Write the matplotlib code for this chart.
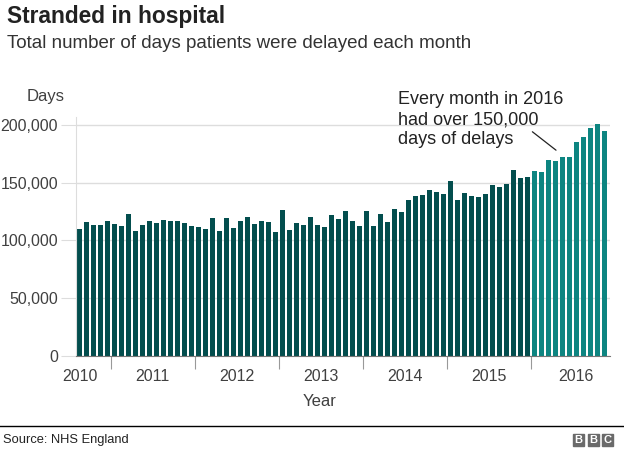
import matplotlib
matplotlib.use("Agg")
from matplotlib import pyplot as plt
from matplotlib.lines import Line2D
from matplotlib.patches import Rectangle
from matplotlib.ticker import FuncFormatter
import numpy as np

plt.rcParams['font.family'] = ['Liberation Sans', 'DejaVu Sans']

# Datos: dias de retraso por mes, de agosto 2010 a noviembre 2016 (miles)
years = [2010, 2011, 2012, 2013, 2014, 2015, 2016]
delays_2010 = [110, 115.8, 113.5, 113.5, 117]
delays_2011 = [114.3, 112.6, 123, 108.3, 113.5, 117, 115.3, 117.8, 117, 117, 115.3, 112.6]
delays_2012 = [111.7, 110, 119.5, 108.3, 119.5, 110.9, 117, 120.4, 114.3, 117, 116.1, 107.4]
delays_2013 = [126, 109.2, 115.3, 113.5, 120.4, 113.5, 111.7, 122.1, 118.7, 125.2, 117, 112.6]
delays_2014 = [125.2, 112.6, 123, 116.1, 126.9, 124.3, 134.7, 138.2, 139, 143.4, 141.6, 139.9]
delays_2015 = [151.2, 134.7, 140.7, 138.2, 137.3, 139.9, 147.7, 146, 148.6, 160.7, 153.8, 154.7]
delays_2016 = [159.8, 158.9, 170.1, 168.4, 172.7, 171.9, 184.9, 189.2, 197, 200.5, 194.5]
yticks = [0, 50000, 100000, 150000, 200000]
note = "Every month in 2016\nhad over 150,000\ndays of delays"

per_year = [delays_2010, delays_2011, delays_2012, delays_2013,
            delays_2014, delays_2015, delays_2016]
values = np.concatenate(per_year) * 1000
bar_year = np.concatenate([[y] * len(v) for y, v in zip(years, per_year)])
x = np.arange(len(values))

dark = '#034e4e'
teal = '#0d8581'
colors = [teal if y == 2016 else dark for y in bar_year]

W, H = 624, 455
fig = plt.figure(figsize=(W / 100, H / 100), dpi=100)
ax = fig.add_axes([76 / W, 99 / H, 534 / W, 239 / H])

ax.bar(x, values, width=0.76, color=colors, zorder=2)

ax.set_xlim(-0.48, len(values) - 1 + 0.8)
ax.set_ylim(0, 206900)

# Eje Y
ax.set_yticks(yticks)
ax.yaxis.set_major_formatter(FuncFormatter(lambda v, p: f"{int(v):,}"))
ax.tick_params(axis='y', length=11, color='#dddddd', pad=2,
               labelsize=11.5, labelcolor='#404040')
ax.yaxis.get_major_ticks()[0].tick1line.set_color('#777777')
ax.yaxis.grid(True, color='#dddddd', lw=1)
ax.set_axisbelow(True)

# Eje X: marcas en el cambio de año, etiquetas centradas en cada año
starts = [i for i in range(1, len(x)) if bar_year[i] != bar_year[i - 1]]
ax.set_xticks([s - 0.5 for s in starts])
ax.set_xticklabels([])
ax.tick_params(axis='x', which='major', length=9, color='#999999')
label_pos = [0.1] + [s + 5.5 for s in starts[:-1]] + [starts[-1] + 6]
ax.set_xticks(label_pos, minor=True)
ax.set_xticklabels([str(y) for y in years], minor=True)
ax.tick_params(axis='x', which='minor', length=0, pad=9.5,
               labelsize=11.5, labelcolor='#404040')

for s in ['top', 'right']:
    ax.spines[s].set_visible(False)
ax.spines['left'].set_color('#dddddd')
ax.spines['bottom'].set_color('#777777')

# Anotacion
ax.annotate('', xy=(68.4, 176700), xytext=(64.4, 195600),
            arrowprops=dict(arrowstyle='-', color='#222222', lw=0.9),
            annotation_clip=False)
fig.text(398 / W, 1 - 91 / H, note, ha='left', va='top', fontsize=13,
         color='#222222', linespacing=1.25)

# Textos
fig.text(7 / W, 1 - 17 / H, 'Stranded in hospital', fontsize=16.4,
         weight='bold', va='center', color='#222222')
fig.text(7 / W, 1 - 44 / H, 'Total number of days patients were delayed each month',
         fontsize=13.5, va='center', color='#333333')
fig.text(27 / W, 1 - 97 / H, 'Days', fontsize=12, va='center', color='#404040')
fig.text(320 / W, 1 - 402 / H, 'Year', fontsize=12, ha='center', va='center',
         color='#404040')

# Pie: linea, fuente y logo
fig.add_artist(Line2D([0, 1], [1 - 426 / H] * 2, color='black', lw=1))
fig.text(3 / W, 1 - 440 / H, 'Source: NHS England', fontsize=9.3,
         va='center', color='#222222')
for i, letter in enumerate('BBC'):
    x0 = 573 + i * 14.5
    fig.add_artist(Rectangle((x0 / W, 1 - 446 / H), 11 / W, 12 / H,
                             transform=fig.transFigure, color='#6a6a6a'))
    fig.text((x0 + 5.5) / W, 1 - 440 / H, letter, fontsize=8, weight='bold',
             color='white', ha='center', va='center')

fig.savefig('out.png', dpi=100)
